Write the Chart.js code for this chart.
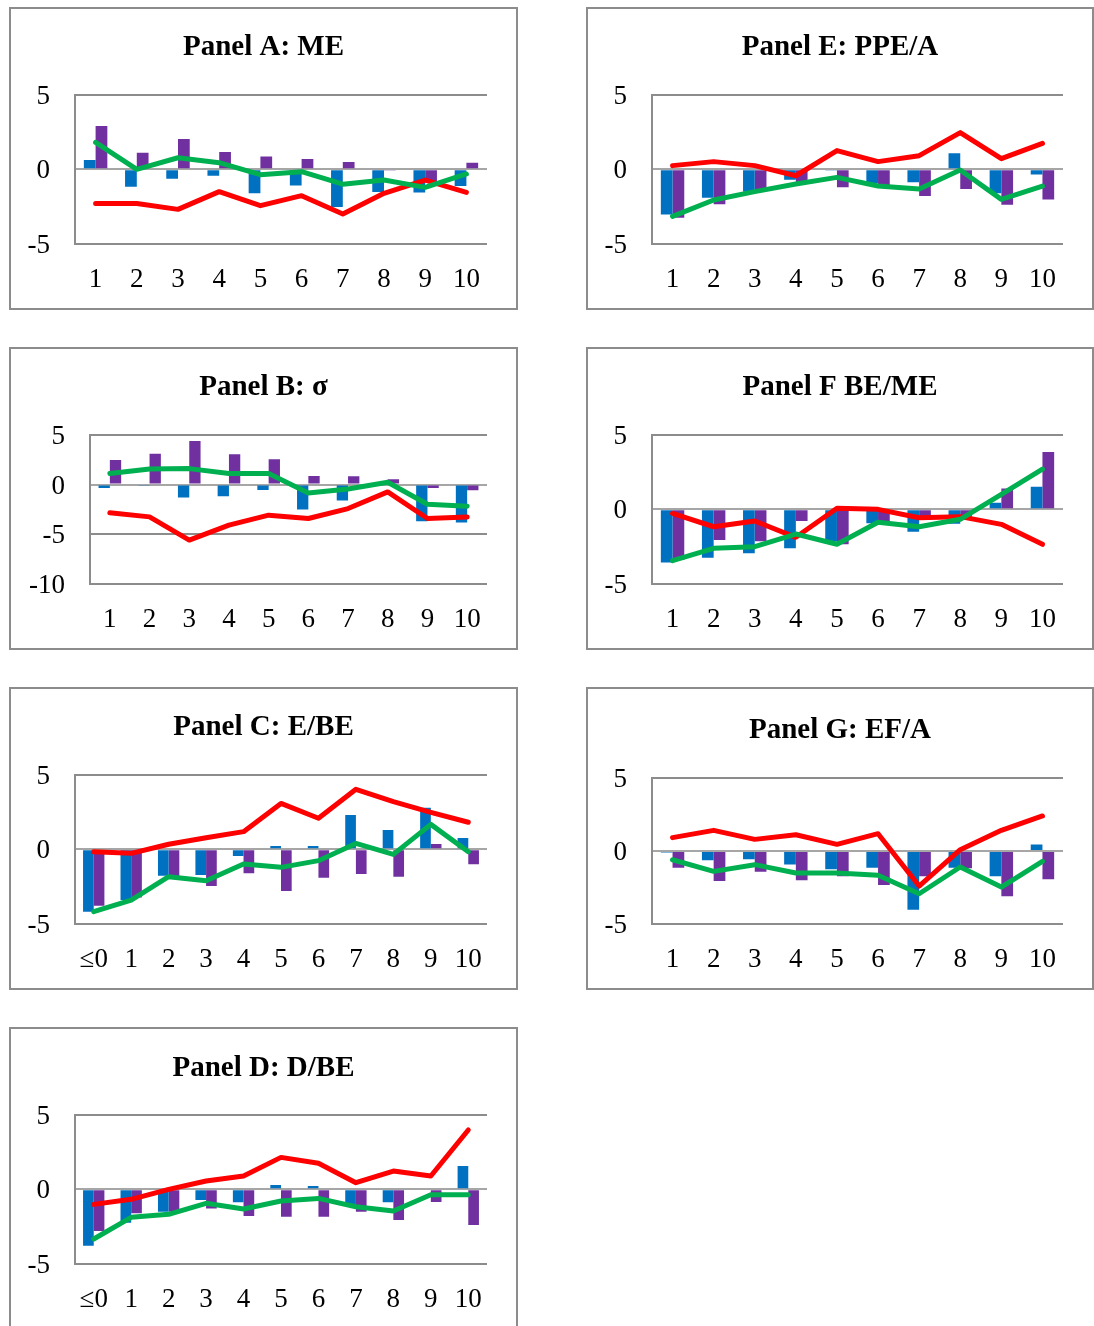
<!DOCTYPE html>
<html>
<head>
<meta charset="utf-8">
<script src="https://cdn.jsdelivr.net/npm/chart.js@4.4.1/dist/chart.umd.min.js"></script>
<style>
  html, body { margin: 0; padding: 0; background: #ffffff; }
  body { width: 1094px; height: 1326px; position: relative; overflow: hidden; }
  .panel { position: absolute; box-sizing: border-box; border: 2px solid #8c8c8c; background: #fff; }
  .panel canvas { display: block; }
</style>
</head>
<body>
<script>
// ---------------- DATA ----------------
const cats10 = ['1','2','3','4','5','6','7','8','9','10'];
const cats11 = ['≤0','1','2','3','4','5','6','7','8','9','10'];

const titleA = 'Panel A: ME';
const blueA   = [0.63, -1.17, -0.63, -0.43, -1.60, -1.08, -2.53, -1.52, -1.55, -1.12];
const purpleA = [2.91, 1.12, 2.04, 1.17, 0.87, 0.70, 0.49, -0.05, -0.83, 0.45];
const redA    = [-2.29, -2.29, -2.69, -1.50, -2.44, -1.77, -3.00, -1.61, -0.72, -1.55];
const greenA  = [1.82, 0.00, 0.78, 0.45, -0.36, -0.16, -1.00, -0.72, -1.21, -0.31];

const titleE = 'Panel E: PPE/A';
const blueE   = [-3.03, -1.91, -1.50, -0.70, -0.05, -0.94, -0.87, 1.08, -1.60, -0.34];
const purpleE = [-3.25, -2.35, -1.39, -0.90, -1.21, -1.12, -1.79, -1.32, -2.38, -2.02];
const redE    = [0.25, 0.52, 0.25, -0.43, 1.26, 0.52, 0.92, 2.47, 0.72, 1.75];
const greenE  = [-3.16, -2.06, -1.50, -0.99, -0.54, -1.12, -1.32, -0.04, -2.02, -1.12];

const titleB = 'Panel B: σ';
const blueB   = [-0.34, -0.13, -1.31, -1.17, -0.54, -2.52, -1.61, 0.05, -3.69, -3.83];
const purpleB = [2.48, 3.12, 4.40, 3.05, 2.55, 0.87, 0.84, 0.54, -0.34, -0.57];
const redB    = [-2.85, -3.26, -5.60, -4.09, -3.09, -3.42, -2.42, -0.74, -3.42, -3.26];
const greenB  = [1.11, 1.58, 1.61, 1.11, 1.11, -0.84, -0.44, 0.23, -1.98, -2.18];

const titleF = 'Panel F BE/ME';
const blueF   = [-3.57, -3.25, -2.96, -2.62, -2.17, -0.94, -1.50, -0.96, 0.45, 1.52];
const purpleF = [-3.40, -2.06, -2.15, -0.78, -2.35, -0.83, -0.72, -0.50, 1.41, 3.86];
const redF    = [-0.27, -1.17, -0.78, -1.88, 0.07, 0.00, -0.56, -0.49, -1.01, -2.35];
const greenF  = [-3.45, -2.62, -2.51, -1.66, -2.35, -0.87, -1.17, -0.67, 1.01, 2.71];

const titleC = 'Panel C: E/BE';
const blueC   = [-4.19, -3.41, -1.77, -1.73, -0.45, 0.22, 0.22, 2.31, 1.30, 2.80, 0.76];
const purpleC = [-3.79, -3.23, -1.84, -2.47, -1.61, -2.80, -1.91, -1.66, -1.84, 0.36, -1.01];
const redC    = [-0.16, -0.27, 0.34, 0.78, 1.19, 3.09, 2.09, 4.04, 3.21, 2.49, 1.82];
const greenC  = [-4.19, -3.41, -1.84, -2.11, -0.99, -1.21, -0.76, 0.40, -0.34, 1.68, -0.16];

const titleG = 'Panel G: EF/A';
const blueG   = [-0.10, -0.64, -0.57, -0.92, -1.26, -1.15, -4.04, -1.15, -1.74, 0.44];
const purpleG = [-1.15, -2.06, -1.42, -2.02, -1.74, -2.34, -1.74, -1.19, -3.12, -1.95];
const redG    = [0.92, 1.42, 0.80, 1.12, 0.46, 1.19, -2.41, 0.09, 1.42, 2.41];
const greenG  = [-0.60, -1.40, -0.94, -1.51, -1.51, -1.67, -2.94, -1.10, -2.48, -0.71];

const titleD = 'Panel D: D/BE';
const blueD   = [-3.79, -2.24, -1.50, -0.72, -0.87, 0.29, 0.22, -0.99, -0.87, 0.07, 1.57];
const purpleD = [-2.80, -1.61, -1.50, -1.28, -1.79, -1.84, -1.84, -1.50, -2.06, -0.85, -2.40];
const redD    = [-1.01, -0.67, 0.00, 0.56, 0.90, 2.15, 1.75, 0.45, 1.23, 0.90, 3.99];
const greenD  = [-3.34, -1.88, -1.68, -0.94, -1.32, -0.78, -0.61, -1.17, -1.46, -0.36, -0.36];

const yTicks5  = [-5, 0, 5];
const yTicks10 = [-10, -5, 0, 5];

// ---------------- LAYOUT (positions only) ----------------
const panels = [
  { title: titleA, cats: cats10, b: blueA, p: purpleA, r: redA, g: greenA, ticks: yTicks5,
    box: [9, 7, 509, 303], plot: [75, 487, 95, 243.7], titleY: 48 },
  { title: titleE, cats: cats10, b: blueE, p: purpleE, r: redE, g: greenE, ticks: yTicks5,
    box: [586, 7, 508, 303], plot: [652, 1063, 95, 243.7], titleY: 48 },
  { title: titleB, cats: cats10, b: blueB, p: purpleB, r: redB, g: greenB, ticks: yTicks10,
    box: [9, 347, 509, 303], plot: [90, 487, 435, 583.7], titleY: 388 },
  { title: titleF, cats: cats10, b: blueF, p: purpleF, r: redF, g: greenF, ticks: yTicks5,
    box: [586, 347, 508, 303], plot: [652, 1063, 435, 583.7], titleY: 388 },
  { title: titleC, cats: cats11, b: blueC, p: purpleC, r: redC, g: greenC, ticks: yTicks5,
    box: [9, 687, 509, 303], plot: [75, 487, 775, 923.7], titleY: 728 },
  { title: titleG, cats: cats10, b: blueG, p: purpleG, r: redG, g: greenG, ticks: yTicks5,
    box: [586, 687, 508, 303], plot: [652, 1063, 778.3, 923.7], titleY: 731 },
  { title: titleD, cats: cats11, b: blueD, p: purpleD, r: redD, g: greenD, ticks: yTicks5,
    box: [9, 1027, 509, 303], plot: [75, 487, 1115, 1263.7], titleY: 1069 }
];

const FONT = "'Liberation Serif', 'Times New Roman', serif";
const TITLE_SIZE = 29;
const TICK_SIZE = 27;
const BORDER = 2;

panels.forEach((P) => {
  const [bl, bt, bw, bh] = P.box;
  const div = document.createElement('div');
  div.className = 'panel';
  div.style.left = bl + 'px';
  div.style.top = bt + 'px';
  div.style.width = bw + 'px';
  div.style.height = bh + 'px';
  document.body.appendChild(div);

  const cw = bw - 2 * BORDER, ch = bh - 2 * BORDER;
  const ox = bl + BORDER, oy = bt + BORDER;
  const canvas = document.createElement('canvas');
  canvas.width = cw; canvas.height = ch;
  canvas.style.width = cw + 'px'; canvas.style.height = ch + 'px';
  div.appendChild(canvas);

  const [pl, pr, pt, pb] = P.plot;
  const yAxisW = pl - ox;
  const rightW = cw - (pr - ox);
  const xAxisH = ch - (pb - oy);
  const lh = TITLE_SIZE * 1.2;
  const tc = P.titleY - oy;
  const titlePadTop = tc - lh / 2;
  const titlePadBottom = (pt - oy) - tc - lh / 2;
  const yMin = Math.min(...P.ticks), yMax = Math.max(...P.ticks);

  new Chart(canvas, {
    data: {
      labels: P.cats,
      datasets: [
        { type: 'line', data: P.g, borderColor: '#00B050', borderWidth: 5, pointRadius: 0,
          tension: 0, borderCapStyle: 'round', borderJoinStyle: 'round', order: 0 },
        { type: 'line', data: P.r, borderColor: '#FF0000', borderWidth: 5, pointRadius: 0,
          tension: 0, borderCapStyle: 'round', borderJoinStyle: 'round', order: 1 },
        { type: 'bar', data: P.b, backgroundColor: '#0070C0', borderWidth: 0,
          categoryPercentage: 0.57, barPercentage: 1.0, order: 2 },
        { type: 'bar', data: P.p, backgroundColor: '#7030A0', borderWidth: 0,
          categoryPercentage: 0.57, barPercentage: 1.0, order: 3 }
      ]
    },
    options: {
      responsive: false,
      animation: false,
      devicePixelRatio: 1,
      layout: { padding: 0 },
      plugins: {
        legend: { display: false },
        tooltip: { enabled: false },
        title: {
          display: true, text: P.title, color: '#000',
          font: { family: FONT, size: TITLE_SIZE, weight: 'bold', lineHeight: 1.2 },
          padding: { top: titlePadTop, bottom: titlePadBottom }
        }
      },
      scales: {
        x: {
          offset: true,
          grid: { display: false, drawTicks: false },
          border: { display: false },
          ticks: { color: '#000', font: { family: FONT, size: TICK_SIZE }, padding: 20,
                   maxRotation: 0, autoSkip: false },
          afterFit: (axis) => { axis.height = xAxisH; }
        },
        y: {
          min: yMin, max: yMax,
          afterBuildTicks: (axis) => { axis.ticks = P.ticks.map(v => ({ value: v })); },
          grid: {
            drawTicks: false,
            color: (ctx) => (ctx.tick && ctx.tick.value === 0) ? '#a6a6a6' : '#8c8c8c',
            lineWidth: 2
          },
          border: { display: true, color: '#8c8c8c', width: 2 },
          ticks: { color: '#000', font: { family: FONT, size: TICK_SIZE }, padding: 25, labelOffset: 2 },
          afterFit: (axis) => { axis.width = yAxisW; }
        },
        yRight: {
          position: 'right',
          min: yMin, max: yMax,
          grid: { display: false, drawTicks: false },
          border: { display: false },
          ticks: { display: false },
          afterFit: (axis) => { axis.width = rightW; }
        }
      }
    }
  });
});
</script>
</body>
</html>
